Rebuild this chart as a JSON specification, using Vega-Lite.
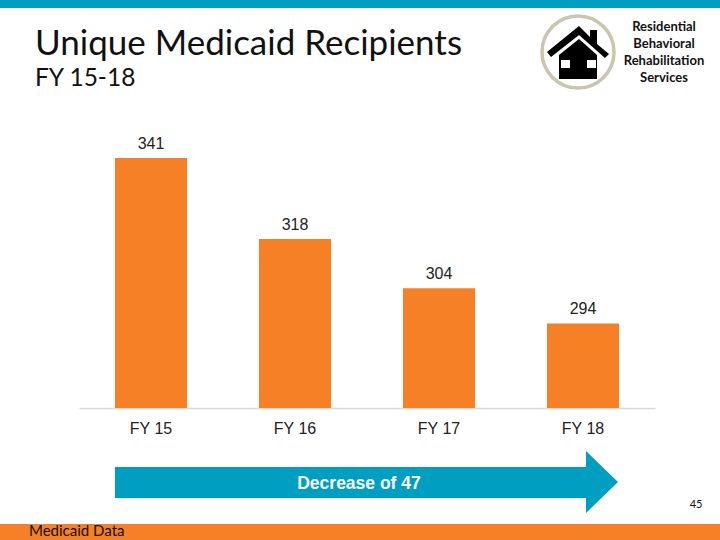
{
"$schema":"https://vega.github.io/schema/vega-lite/v6.json",
"width":576,"height":250,
"autosize":"none",
"padding":{"left":79,"top":158,"right":65,"bottom":132},
"background":"white",
"config":{"view":{"stroke":null}},
"title":{"text":"Unique Medicaid Recipients","subtitle":"FY 15-18","anchor":"start","frame":"group","dx":-44,"offset":-90,"font":"Lato","fontSize":35,"fontWeight":"normal","color":"#111111","subtitleFont":"Lato","subtitleFontSize":24.5,"subtitleColor":"#111111","subtitlePadding":5},
"data":{"values":[
{"fy":"FY 15","recipients":341},
{"fy":"FY 16","recipients":318},
{"fy":"FY 17","recipients":304},
{"fy":"FY 18","recipients":294}]},
"layer":[
{"mark":{"type":"bar","color":"#F58025"},
 "encoding":{
  "x":{"field":"fy","type":"nominal","sort":null,"title":null,"scale":{"paddingInner":0.5,"paddingOuter":0.25},
   "axis":{"domainColor":"#D9D9D9","domainWidth":1.5,"ticks":false,"labelAngle":0,"labelFont":"Liberation Sans","labelFontSize":16,"labelColor":"#222222","labelPadding":12}},
  "y":{"field":"recipients","type":"quantitative","scale":{"domain":[270,341],"nice":false,"zero":false},"axis":null},
  "y2":{"datum":270}}},
{"mark":{"type":"text","font":"Liberation Sans","fontSize":16,"color":"#222222","dy":-14},
 "encoding":{"x":{"field":"fy","type":"nominal","sort":null},"y":{"field":"recipients","type":"quantitative"},"text":{"field":"recipients","type":"quantitative"}}},
{"data":{"values":[{"from":"FY 15","to":"FY 18"}]},
 "mark":{"type":"rect","color":"#009FC2"},
 "encoding":{"x":{"field":"from","type":"nominal","sort":null,"bandPosition":0},"x2":{"field":"to","bandPosition":0.55},"y":{"value":309},"y2":{"value":340}}},
{"data":{"values":[{"name":"arrow head"}]},
 "mark":{"type":"point","filled":true,"opacity":1,"color":"#009FC2","shape":"M0,-31L32,0L0,31Z","size":4},
 "encoding":{"x":{"value":507},"y":{"value":324}}},
{"data":{"values":[{"label":"Decrease of 47"}]},
 "mark":{"type":"text","font":"Liberation Sans","fontSize":17.5,"fontWeight":"bold","color":"white"},
 "encoding":{"text":{"field":"label"},"x":{"value":280},"y":{"value":326}}},
{"data":{"values":[{"name":"top band"}]},
 "mark":{"type":"rect","color":"#009FC2"},
 "encoding":{"x":{"value":-79},"x2":{"value":641},"y":{"value":-158},"y2":{"value":-150}}},
{"data":{"values":[{"name":"bottom band"}]},
 "mark":{"type":"rect","color":"#F58025"},
 "encoding":{"x":{"value":-79},"x2":{"value":641},"y":{"value":366},"y2":{"value":382}}},
{"data":{"values":[{"label":"Medicaid Data"}]},
 "mark":{"type":"text","font":"Lato","fontSize":15,"align":"left","color":"#111111"},
 "encoding":{"text":{"field":"label"},"x":{"value":-50},"y":{"value":373}}},
{"data":{"values":[{"label":"45"}]},
 "mark":{"type":"text","font":"Lato","fontSize":11,"color":"#111111"},
 "encoding":{"text":{"field":"label"},"x":{"value":617},"y":{"value":347}}},
{"data":{"values":[{"label":"Residential\nBehavioral\nRehabilitation\nServices"}]},
 "mark":{"type":"text","font":"Lato","fontSize":13,"fontWeight":"bold","color":"#111111","lineBreak":"\n","lineHeight":17,"baseline":"top"},
 "encoding":{"text":{"field":"label"},"x":{"value":585},"y":{"value":-137}}},
{"data":{"values":[{"name":"ring"}]},
 "mark":{"type":"point","filled":false,"opacity":1,"stroke":"#C9C5AE","strokeWidth":3.5,"shape":"circle","size":5184},
 "encoding":{"x":{"value":499},"y":{"value":-106}}},
{"data":{"values":[{"name":"house"}]},
 "mark":{"type":"point","filled":true,"opacity":1,"color":"#000000","size":4,
  "shape":"M1,-26L12,-15L12,-22L19,-22L19,-8L31,2L27,6L1,-17L-27,5L-31,0ZM1,-13L19,3L19,27L-19,27L-19,3ZM-17,8L-17,16L-8,16L-8,8ZM9,8L9,16L18,16L18,8Z"},
 "encoding":{"x":{"value":499},"y":{"value":-106}}}
]
}
